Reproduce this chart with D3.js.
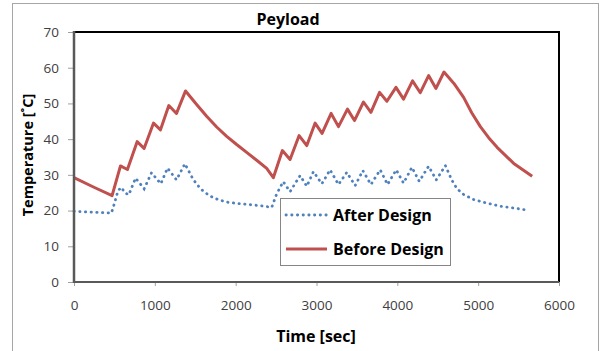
<!DOCTYPE html>
<html>
<head>
<meta charset="utf-8">
<script src="https://cdn.jsdelivr.net/npm/d3@7"></script>
<style>
    body { margin: 0; background: #fff; }
    svg { display: block; font-family: 'Open Sans', sans-serif; }
</style>
</head>
<body>
<svg id="chart" width="601" height="351"></svg>
<script>

// Data

const beforeTime = [0, 240, 471, 575, 661, 781, 867, 984, 1070, 1173, 1268, 1380,
    1517, 1641, 1765, 1889, 2012, 2136, 2260, 2384, 2466,
    2578, 2673, 2785, 2880, 2983, 3069, 3181, 3272, 3383, 3470, 3581, 3673,
    3780, 3871, 3983, 4077, 4188, 4284, 4387, 4478, 4577,
    4700, 4820, 4920, 5027, 5130, 5234, 5440, 5668]
const beforeTemp = [29.2, 26.6, 24.2, 32.5, 31.5, 39.3, 37.4, 44.5, 42.6, 49.4, 47.2, 53.5,
    49.7, 46.4, 43.4, 40.8, 38.5, 36.3, 34.1, 31.8, 29.2,
    36.8, 34.3, 41.0, 38.2, 44.5, 41.6, 47.2, 43.5, 48.4, 45.2, 50.4, 47.5,
    53.1, 50.6, 54.5, 51.2, 56.3, 53.0, 57.8, 54.2, 58.8,
    55.6, 51.7, 47.4, 43.5, 40.4, 37.7, 33.2, 29.6]

const afterTime = [0, 463, 504, 545, 587, 628, 678, 761, 826, 868, 959, 1033, 1074,
    1157, 1268, 1372, 1475, 1566, 1624, 1690, 1756, 1826, 1909, 2062, 2293, 2446,
    2508, 2588, 2673, 2797, 2880, 2962, 3066, 3168, 3272, 3375, 3478, 3573, 3673,
    3788, 3879, 3986, 4077, 4180, 4271, 4387, 4482, 4594,
    4677, 4739, 4820, 4944, 5089, 5275, 5440, 5620]
const afterTemp = [19.8, 19.3, 22.3, 25.6, 26.5, 25.0, 24.4, 29.1, 27.3, 26.1, 30.6, 28.6, 27.5,
    31.9, 28.6, 33.1, 28.7, 26.1, 25.0, 24.0, 23.3, 22.8, 22.3, 21.9, 21.4, 20.9,
    24.7, 28.1, 25.3, 29.8, 26.8, 30.9, 27.5, 31.4, 27.3, 30.7, 27.0, 31.2, 27.3,
    31.4, 27.3, 31.4, 27.7, 32.1, 28.2, 32.4, 28.6, 32.6,
    28.4, 26.1, 24.5, 23.1, 22.2, 21.2, 20.7, 20.1]

const xTicks = [0, 1000, 2000, 3000, 4000, 5000, 6000]
const yTicks = [0, 10, 20, 30, 40, 50, 60, 70]

const seriesNames = ['After Design', 'Before Design']
const seriesColors = ['#4f81bd', '#c0504d']

const titleText = 'Peyload'
const xTitle = 'Time [sec]'
const yTitle = 'Temperature [˚C]'

// Layout

const svg = d3.select('#chart')
const plot = { left: 74, right: 559, top: 32, bottom: 282 }

const x = d3.scaleLinear().domain([0, 6000]).range([plot.left, plot.right])
const y = d3.scaleLinear().domain([0, 70]).range([plot.bottom, plot.top])

// outer chart frame
svg.append('rect')
    .attr('x', 12.5).attr('y', 3.5)
    .attr('width', 586).attr('height', 360)
    .attr('fill', '#fff')
    .attr('stroke', '#a6a6a6')

// plot area frame (top + right black)
svg.append('path')
    .attr('d', `M${plot.left},${plot.top}H${plot.right}V${plot.bottom}`)
    .attr('fill', 'none')
    .attr('stroke', '#000')
    .attr('stroke-width', 2)

// Axes

const yAxis = d3.axisLeft(y).tickValues(yTicks).tickSize(6).tickPadding(9)
const xAxis = d3.axisBottom(x).tickValues(xTicks).tickSize(4).tickPadding(14)
    .tickFormat(d3.format('d'))

const gy = svg.append('g')
    .attr('transform', `translate(${plot.left},0)`)
    .call(yAxis)
const gx = svg.append('g')
    .attr('transform', `translate(0,${plot.bottom})`)
    .call(xAxis)

;[gx, gy].forEach(g => {
    g.select('.domain').remove()
    g.selectAll('.tick line').attr('stroke', '#a0a0a0')
    g.selectAll('.tick text')
        .attr('fill', '#404040')
        .style('font-size', '13.5px')
        .style('font-family', "'Open Sans', sans-serif")
})

// Lines

const pointsBefore = beforeTime.map((t, i) => [t, beforeTemp[i]])
const pointsAfter = afterTime.map((t, i) => [t, afterTemp[i]])

const line = d3.line()
    .x(d => x(d[0]))
    .y(d => y(d[1]))

svg.append('path')
    .datum(pointsAfter)
    .attr('d', line)
    .attr('fill', 'none')
    .attr('stroke', seriesColors[0])
    .attr('stroke-width', 2.8)
    .attr('stroke-linecap', 'round')
    .attr('stroke-dasharray', '0.3 5.4')

svg.append('path')
    .datum(pointsBefore)
    .attr('d', line)
    .attr('fill', 'none')
    .attr('stroke', seriesColors[1])
    .attr('stroke-width', 3)
    .attr('stroke-linejoin', 'round')

// axis lines (dark grey) over the lines
svg.append('line')
    .attr('x1', plot.left).attr('x2', plot.left)
    .attr('y1', plot.top - 1).attr('y2', plot.bottom + 1)
    .attr('stroke', '#595959')
    .attr('stroke-width', 2.5)
svg.append('line')
    .attr('x1', plot.left).attr('x2', plot.right)
    .attr('y1', plot.bottom).attr('y2', plot.bottom)
    .attr('stroke', '#595959')
    .attr('stroke-width', 2)

// Titles

svg.append('text')
    .attr('x', 288).attr('y', 25)
    .attr('text-anchor', 'middle')
    .style('font-size', '16px').style('font-weight', 'bold')
    .text(titleText)

svg.append('text')
    .attr('x', 316).attr('y', 342)
    .attr('text-anchor', 'middle')
    .style('font-size', '16px').style('font-weight', 'bold')
    .text(xTitle)

svg.append('text')
    .attr('transform', 'translate(33,155) rotate(-90)')
    .attr('text-anchor', 'middle')
    .style('font-size', '14.5px').style('font-weight', 'bold')
    .text(yTitle)

// Legend

const legend = svg.append('g').attr('transform', 'translate(280,198)')

legend.append('rect')
    .attr('x', 0.5).attr('y', 0.5)
    .attr('width', 170).attr('height', 67)
    .attr('fill', '#fff')
    .attr('stroke', '#868686')

seriesNames.forEach((name, i) => {
    const row = legend.append('g').attr('transform', `translate(0,${17 + i * 34})`)
    const sample = row.append('line')
        .attr('x1', 6).attr('x2', 47)
        .attr('y1', 0).attr('y2', 0)
        .attr('stroke', seriesColors[i])
    if (i === 0) {
        sample.attr('stroke-width', 2.8)
            .attr('stroke-linecap', 'round')
            .attr('stroke-dasharray', '0.3 5.4')
    } else {
        sample.attr('stroke-width', 3)
    }
    row.append('text')
        .attr('x', 53).attr('y', 6)
        .style('font-size', '16px').style('font-weight', 'bold')
        .text(name)
})

</script>
</body>
</html>
